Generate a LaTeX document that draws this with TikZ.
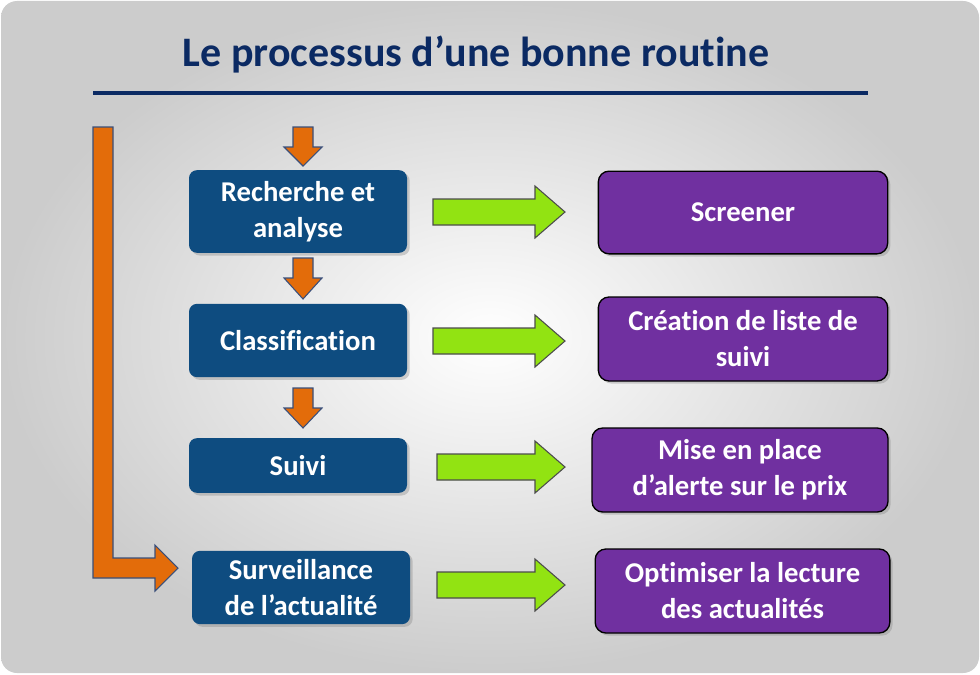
\documentclass[tikz,border=0pt]{standalone}
\usepackage{fontspec}
\setmainfont{Carlito}[Ligatures=NoCommon]
\usetikzlibrary{shadows}
\definecolor{navy}{HTML}{0B2A63}
\definecolor{bbox}{HTML}{0E4C80}
\definecolor{pbox}{HTML}{7030A0}
\definecolor{garr}{HTML}{92E312}
\definecolor{oarr}{HTML}{E36C0A}
\definecolor{oedge}{HTML}{3A4F7A}
\tikzset{
 lb/.style={draw=none,fill=bbox,rounded corners=6pt,text=white,font=\bfseries\fontsize{21.5}{27}\selectfont,align=center,drop shadow={opacity=0.35,shadow xshift=2pt,shadow yshift=-2pt}},
 rb/.style={draw=black,line width=1pt,fill=pbox,rounded corners=8pt,text=white,font=\bfseries\fontsize{21.5}{27}\selectfont,align=center,drop shadow={opacity=0.35,shadow xshift=2pt,shadow yshift=-2pt}},
 garrow/.style={fill=garr,draw=black!70,line width=0.8pt},
 oarrow/.style={fill=oarr,draw=oedge,line width=0.8pt},
}
\begin{document}
\begin{tikzpicture}[x=0.75pt,y=-0.75pt]
\useasboundingbox (0,0) rectangle (980,674);
\shade[rounded corners=12pt,inner color=white,outer color=black!20] (1,1) rectangle (979,673);
\node[text=navy,font=\bfseries\fontsize{31.5}{36}\selectfont] (title) at (476,55) {Le processus d’une bonne routine};
\draw[navy,line width=2.6pt] (93,93) -- (868,93);
% left boxes
\node[lb,minimum width=163.5pt,minimum height=62pt] (l1) at (298,211.5) {Recherche et\\analyse};
\node[lb,minimum width=163.5pt,minimum height=55pt] (l2) at (298,340.5) {Classification};
\node[lb,minimum width=163.5pt,minimum height=41pt] (l3) at (298,465.5) {Suivi};
\node[lb,minimum width=163.5pt,minimum height=55pt] (l4) at (301,587.5) {Surveillance\\de l’actualité};
% right boxes
\node[rb,minimum width=217pt,minimum height=62pt] (r1) at (743,212.5) {Screener};
\node[rb,minimum width=217pt,minimum height=63pt] (r2) at (743,339) {Création de liste de\\suivi};
\node[rb,minimum width=222pt,minimum height=63pt] (r3) at (740,470) {Mise en place\\d’alerte sur le prix};
\node[rb,minimum width=221pt,minimum height=63pt] (r4) at (742.5,591) {Optimiser la lecture\\des actualités};
% green arrows
\foreach \c/\x in {212/433,341/433,467/437,585/437}{
 \draw[garrow] (\x,\c-13) -- (535,\c-13) -- (535,\c-26) -- (565,\c) -- (535,\c+26) -- (535,\c+13) -- (\x,\c+13) -- cycle;
}
% orange down arrows
\foreach \t/\b in {127/166,258/299,388/428}{
 \draw[oarrow] (293,\t) -- (313,\t) -- (313,\t+20) -- (322,\t+20) -- (303,\b) -- (284,\t+20) -- (293,\t+20) -- cycle;
}
% L arrow
\draw[oarrow] (93,127) -- (113,127) -- (113,558) -- (155,558) -- (155,545) -- (178,568) -- (155,591) -- (155,578) -- (93,578) -- cycle;
\end{tikzpicture}
\end{document}
